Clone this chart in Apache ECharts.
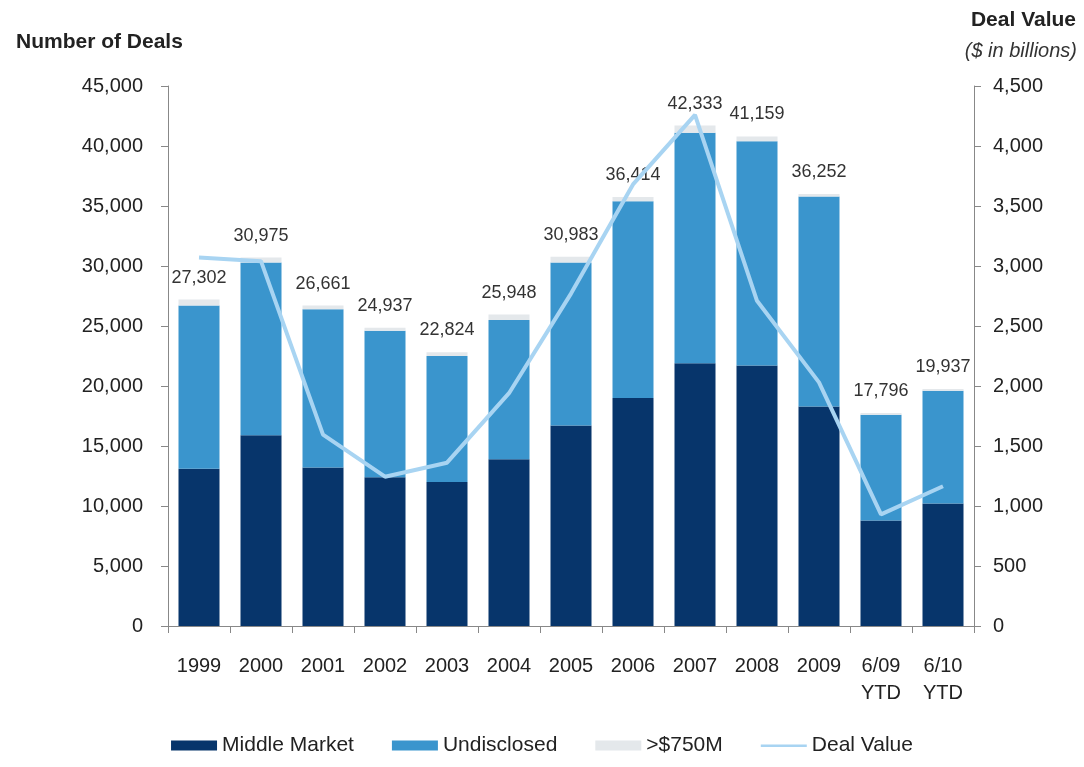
<!DOCTYPE html>
<html>
<head>
<meta charset="utf-8">
<script src="https://cdn.jsdelivr.net/npm/echarts@6/dist/echarts.min.js"></script>
<style>
html,body{margin:0;padding:0;background:#fff;}
#chart{width:1084px;height:767px;}
</style>
</head>
<body>
<div id="chart"></div>
<script>
const categories = ['1999','2000','2001','2002','2003','2004','2005','2006','2007','2008','2009','6/09\nYTD','6/10\nYTD'];
const middleMarket = [13100, 15900, 13200, 12400, 12000, 13900, 16700, 19000, 21900, 21700, 18300, 8800, 10200];
const undisclosed = [13600, 14400, 13200, 12200, 10500, 11600, 13600, 16400, 19200, 18700, 17500, 8800, 9400];
const over750M = [500, 400, 300, 250, 320, 450, 480, 350, 600, 400, 200, 150, 150];
const totalLabels = ['27,302','30,975','26,661','24,937','22,824','25,948','30,983','36,414','42,333','41,159','36,252','17,796','19,937'];
const dealValue = [3070, 3040, 1595, 1244, 1361, 1940, 2770, 3680, 4260, 2710, 2030, 930, 1165];
const leftTicks = {min: 0, max: 45000, interval: 5000};
const rightTicks = {min: 0, max: 4500, interval: 500};

const FONT = '"Liberation Sans", Arial, Helvetica, sans-serif';
const fmt = v => v.toLocaleString('en-US');
const LINE_COLOR = '#a8d4f2';

const chart = echarts.init(document.getElementById('chart'));
chart.setOption({
  animation: false,
  backgroundColor: '#ffffff',
  textStyle: {fontFamily: FONT},
  title: [
    {text: 'Number of Deals', left: 11, top: 27, textStyle: {fontFamily: FONT, fontSize: 21, fontWeight: 'bold', color: '#222'}},
    {text: 'Deal Value', right: 3, top: 5, textStyle: {fontFamily: FONT, fontSize: 21, fontWeight: 'bold', color: '#222'}},
    {text: '($ in billions)', right: 2, top: 36, textStyle: {fontFamily: FONT, fontSize: 20, fontStyle: 'italic', fontWeight: 'normal', color: '#333'}}
  ],
  legend: {
    bottom: 6,
    left: 'center',
    itemWidth: 46,
    itemHeight: 10,
    itemGap: 38,
    textStyle: {fontFamily: FONT, fontSize: 21, color: '#222'},
    data: [
      {name: 'Middle Market', icon: 'rect'},
      {name: 'Undisclosed', icon: 'rect'},
      {name: '>$750M', icon: 'rect'},
      {name: 'Deal Value', icon: 'path://M0,0 M0,4 L46,4 L46,6.5 L0,6.5 Z M46,10'}
    ]
  },
  grid: {left: 168, right: 110, top: 86, bottom: 141},
  xAxis: {
    type: 'category',
    data: categories,
    axisLine: {lineStyle: {color: '#888', width: 1}},
    axisTick: {show: true, length: 7, lineStyle: {color: '#888'}},
    axisLabel: {fontFamily: FONT, fontSize: 20, color: '#222', margin: 27, lineHeight: 27, interval: 0}
  },
  yAxis: [
    {
      type: 'value', min: leftTicks.min, max: leftTicks.max, interval: leftTicks.interval,
      axisLine: {show: true, lineStyle: {color: '#888'}},
      axisTick: {show: true, length: 7, lineStyle: {color: '#888'}},
      splitLine: {show: false},
      axisLabel: {fontFamily: FONT, fontSize: 20, color: '#222', margin: 25, formatter: fmt}
    },
    {
      type: 'value', min: rightTicks.min, max: rightTicks.max, interval: rightTicks.interval,
      position: 'right',
      axisLine: {show: true, lineStyle: {color: '#888'}},
      axisTick: {show: true, length: 7, lineStyle: {color: '#888'}},
      splitLine: {show: false},
      axisLabel: {fontFamily: FONT, fontSize: 20, color: '#222', margin: 19, formatter: fmt}
    }
  ],
  series: [
    {name: 'Middle Market', type: 'bar', stack: 'deals', barWidth: 41, data: middleMarket,
     itemStyle: {color: '#07356b'}},
    {name: 'Undisclosed', type: 'bar', stack: 'deals', barWidth: 41, data: undisclosed,
     itemStyle: {color: '#3a95cd'}},
    {name: '>$750M', type: 'bar', stack: 'deals', barWidth: 41, data: over750M,
     itemStyle: {color: '#e4e8eb'},
     label: {show: true, position: 'top', distance: 13, fontFamily: FONT, fontSize: 18, color: '#333',
             formatter: p => totalLabels[p.dataIndex]}},
    {name: 'Deal Value', type: 'line', yAxisIndex: 1, data: dealValue, symbol: 'none',
     lineStyle: {color: LINE_COLOR, width: 4}, itemStyle: {color: LINE_COLOR}, z: 5}
  ]
});
</script>
</body>
</html>
